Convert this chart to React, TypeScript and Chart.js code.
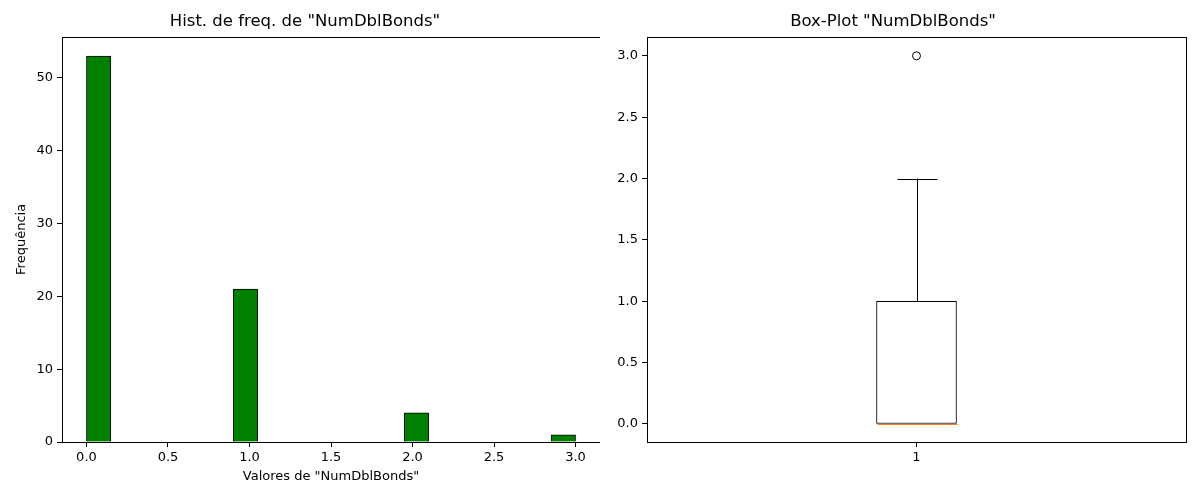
import { useEffect, useRef } from "react";
import { Chart, registerables } from "chart.js";

Chart.register(...registerables);

// histogram: 20 bins between 0 and 3
const binWidth = 0.15;
const binCounts = [53, 0, 0, 0, 0, 0, 21, 0, 0, 0, 0, 0, 0, 4, 0, 0, 0, 0, 0, 1];
const histTicks = [0, 0.5, 1, 1.5, 2, 2.5, 3];
const freqTicks = [0, 10, 20, 30, 40, 50];

// box plot stats
const boxLabels = ["1"];
const boxQ1 = 0;
const boxQ3 = 1;
const boxMedian = 0;
const whiskerLow = 0;
const whiskerHigh = 2;
const outliers = [3];
const boxTicks = [0, 0.5, 1, 1.5, 2, 2.5, 3];

const FONT = "'DejaVu Sans', sans-serif";

const frame = {
  id: "frame",
  afterDraw(chart: any) {
    const { ctx, chartArea: a } = chart;
    ctx.save();
    ctx.strokeStyle = "#000";
    ctx.lineWidth = 1;
    ctx.strokeRect(Math.round(a.left) + 0.5, Math.round(a.top) + 0.5, Math.round(a.width), Math.round(a.height));
    ctx.restore();
  },
};

const whiskers = {
  id: "whiskers",
  afterDatasetsDraw(chart: any) {
    const { ctx } = chart;
    const xs = chart.scales.x;
    const ys = chart.scales.y;
    const x = Math.round(xs.getPixelForValue(0)) + 0.5;
    ctx.save();
    ctx.strokeStyle = "#000";
    ctx.lineWidth = 1;
    ctx.beginPath();
    ctx.moveTo(x, ys.getPixelForValue(boxQ3));
    ctx.lineTo(x, ys.getPixelForValue(whiskerHigh));
    const yh = Math.round(ys.getPixelForValue(whiskerHigh)) + 0.5;
    ctx.moveTo(x - 20, yh);
    ctx.lineTo(x + 20, yh);
    const yl = Math.round(ys.getPixelForValue(whiskerLow)) + 0.5;
    ctx.moveTo(x - 20, yl);
    ctx.lineTo(x + 20, yl);
    ctx.stroke();
    ctx.strokeStyle = "#ff7f0e";
    ctx.beginPath();
    const ym = Math.round(ys.getPixelForValue(boxMedian)) + 0.5;
    ctx.moveTo(x - 40, ym);
    ctx.lineTo(x + 40, ym);
    ctx.stroke();
    ctx.restore();
  },
};

const tickFont = { family: FONT, size: 13 };
const titleOpts = (text: string) => ({
  display: true,
  text,
  color: "#000",
  font: { family: FONT, size: 16.5, weight: "normal" as const },
  padding: { top: 12, bottom: 5 },
});
const gridOpts = { drawOnChartArea: false, color: "#000", tickLength: 5, offset: false };

function Histogram() {
  const ref = useRef<HTMLCanvasElement | null>(null);
  useEffect(() => {
    const el = ref.current;
    if (!el) return;
    const chart = new Chart(el, {
      type: "bar",
      data: {
        datasets: [
          {
            data: binCounts.map((c, i) => ({ x: (i + 0.5) * binWidth, y: c })),
            backgroundColor: "#008000",
            borderColor: "#000",
            borderWidth: 1,
            barPercentage: 1,
            categoryPercentage: 1,
          },
        ],
      },
      options: {
        animation: false,
        responsive: false,
        layout: { padding: { left: 10, right: 0, top: 0, bottom: 12 } },
        plugins: { legend: { display: false }, tooltip: { enabled: false }, title: titleOpts('Hist. de freq. de "NumDblBonds"') },
        scales: {
          x: {
            type: "linear",
            min: -0.15,
            max: 3.15,
            offset: false,
            afterBuildTicks: (s: any) => { s.ticks = histTicks.map((v) => ({ value: v })); },
            afterFit: (s: any) => { s.height = 46; },
            ticks: { color: "#000", font: tickFont, padding: 3, maxRotation: 0, callback: (v: any) => Number(v).toFixed(1) },
            grid: gridOpts,
            border: { display: false },
            title: { display: true, text: 'Valores de "NumDblBonds"', color: "#000", font: tickFont, padding: { top: 2 } },
          },
          y: {
            min: 0,
            max: 55.65,
            afterBuildTicks: (s: any) => { s.ticks = freqTicks.map((v) => ({ value: v })); },
            afterFit: (s: any) => { s.width = 52; },
            ticks: { color: "#000", font: tickFont, padding: 4 },
            grid: gridOpts,
            border: { display: false },
            title: { display: true, text: "Frequência", color: "#000", font: tickFont, padding: { bottom: 8 } },
          },
        },
      },
      plugins: [frame],
    } as any);
    return () => chart.destroy();
  }, []);
  return <canvas ref={ref} width={600} height={500} />;
}

function BoxPlot() {
  const ref = useRef<HTMLCanvasElement | null>(null);
  useEffect(() => {
    const el = ref.current;
    if (!el) return;
    const chart = new Chart(el, {
      type: "bar",
      data: {
        labels: boxLabels,
        datasets: [
          {
            data: [[boxQ1, boxQ3]],
            backgroundColor: "#fff",
            borderColor: "#000",
            borderWidth: 1,
            borderSkipped: false,
            barThickness: 80,
          },
          {
            type: "scatter",
            data: outliers.map((v) => ({ x: boxLabels[0], y: v })),
            pointStyle: "circle",
            pointRadius: 4,
            backgroundColor: "#fff",
            borderColor: "#000",
            borderWidth: 1,
          },
        ],
      },
      options: {
        animation: false,
        responsive: false,
        layout: { padding: { left: 0, right: 14, top: 0, bottom: 0 } },
        plugins: { legend: { display: false }, tooltip: { enabled: false }, title: titleOpts('Box-Plot "NumDblBonds"') },
        scales: {
          x: {
            type: "category",
            offset: true,
            afterFit: (s: any) => { s.height = 58; },
            ticks: { color: "#000", font: tickFont, padding: 3 },
            grid: gridOpts,
            border: { display: false },
          },
          y: {
            min: -0.147,
            max: 3.155,
            afterBuildTicks: (s: any) => { s.ticks = boxTicks.map((v) => ({ value: v })); },
            afterFit: (s: any) => { s.width = 47; },
            ticks: { color: "#000", font: tickFont, padding: 4, callback: (v: any) => Number(v).toFixed(1) },
            grid: gridOpts,
            border: { display: false },
          },
        },
      },
      plugins: [frame, whiskers],
    } as any);
    return () => chart.destroy();
  }, []);
  return <canvas ref={ref} width={600} height={500} />;
}

export default function App() {
  return (
    <div style={{ position: "fixed", left: 0, top: 0, width: 1200, height: 500, background: "#fff" }}>
      <div style={{ position: "absolute", left: 0, top: 0 }}>
        <Histogram />
      </div>
      <div style={{ position: "absolute", left: 600, top: 0 }}>
        <BoxPlot />
      </div>
    </div>
  );
}
